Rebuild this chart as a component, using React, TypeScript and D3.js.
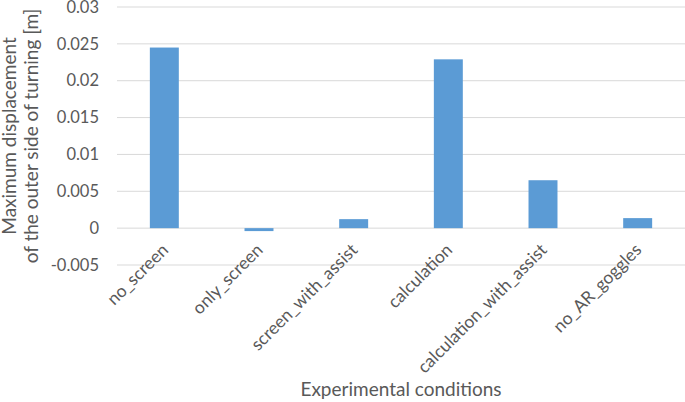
import * as d3 from "d3";

const categories = [
  "no_screen",
  "only_screen",
  "screen_with_assist",
  "calculation",
  "calculation_with_assist",
  "no_AR_goggles",
];
const values = [0.0245, -0.0004, 0.00122, 0.0229, 0.0065, 0.00136];
const yTicks = [-0.005, 0, 0.005, 0.01, 0.015, 0.02, 0.025, 0.03];
const yTickLabels = ["-0.005", "0", "0.005", "0.01", "0.015", "0.02", "0.025", "0.03"];

const width = 685;
const height = 402;
const left = 117;
const right = 685;
const top = 7;
const bottom = 265;
const font = "Lato, 'Open Sans', sans-serif";
const textColor = "#595959";

const App = () => {
  const x = d3
    .scaleBand<string>()
    .domain(categories)
    .range([left, right])
    .paddingInner(0.694)
    .paddingOuter(0.347);

  const y = d3
    .scaleLinear()
    .domain([-0.005, 0.03])
    .range([bottom, top]);

  const midY = (top + bottom) / 2;

  return (
    <svg
      width={width}
      height={height}
      style={{ position: "absolute", left: 0, top: 0, background: "#fff" }}
    >
      {/* gridlines */}
      {yTicks.map((t) => (
        <line
          key={t}
          x1={left}
          x2={right}
          y1={y(t)}
          y2={y(t)}
          stroke="#d9d9d9"
          strokeWidth={1}
        />
      ))}
      {/* y tick labels */}
      {yTicks.map((t, i) => (
        <text
          key={"l" + t}
          x={99}
          y={y(t)}
          dy="0.35em"
          textAnchor="end"
          fontFamily={font}
          fontSize={16.5}
          fill={textColor}
        >
          {yTickLabels[i]}
        </text>
      ))}
      {/* bars */}
      {categories.map((c, i) => (
        <rect
          key={c}
          x={x(c)}
          width={x.bandwidth()}
          y={Math.min(y(values[i]), y(0))}
          height={Math.abs(y(values[i]) - y(0))}
          fill="#5b9bd5"
        />
      ))}
      {/* x labels */}
      {categories.map((c) => {
        const cx = (x(c) as number) + x.bandwidth() / 2;
        return (
          <text
            key={"x" + c}
            transform={`translate(${cx + 5},${251}) rotate(-45)`}
            textAnchor="end"
            fontFamily={font}
            fontSize={17.5}
            fill={textColor}
          >
            {c}
          </text>
        );
      })}
      {/* axis titles */}
      <text
        x={(left + right) / 2}
        y={396}
        textAnchor="middle"
        fontFamily={font}
        fontSize={19}
        fill={textColor}
      >
        Experimental conditions
      </text>
      <g transform={`translate(0,${midY}) rotate(-90)`}>
        <text
          x={0}
          y={16}
          textAnchor="middle"
          fontFamily={font}
          fontSize={19}
          fill={textColor}
        >
          Maximum displacement
        </text>
        <text
          x={0}
          y={38}
          textAnchor="middle"
          fontFamily={font}
          fontSize={19}
          fill={textColor}
        >
          of the outer side of turning [m]
        </text>
      </g>
    </svg>
  );
};

export default App;
